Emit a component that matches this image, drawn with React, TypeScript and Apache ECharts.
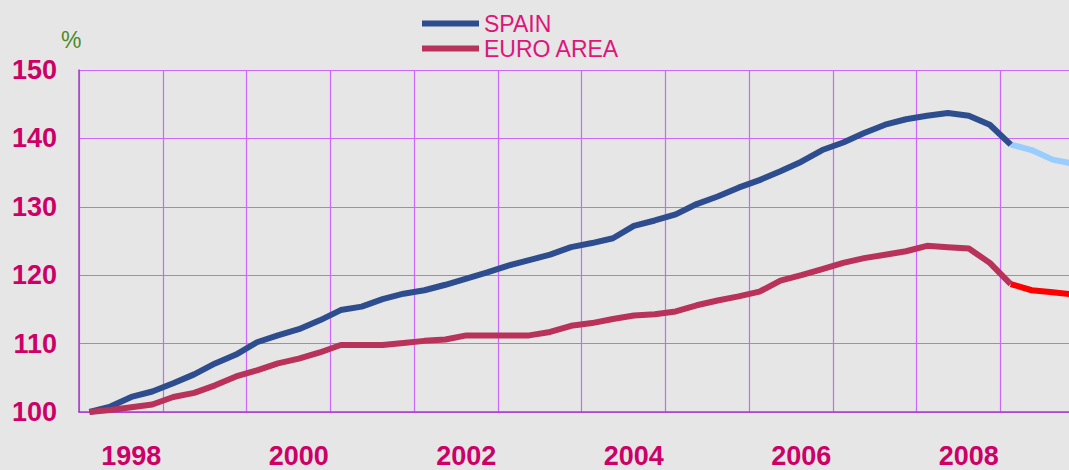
import React, { useEffect, useRef } from "react";
import * as echarts from "echarts";

const years = [1998, 1999, 2000, 2001, 2002, 2003, 2004, 2005, 2006, 2007, 2008, 2009];
const quarters = ["Q1", "Q2", "Q3", "Q4"];
const categories = years.flatMap((y) => quarters.map((q) => `${y} ${q}`));

// Index level, 1998 Q1 = 100 (quarterly, 1998 Q1 .. 2009 Q4)
const spain = [
  100.0, 100.8, 102.2, 103.0, 104.2, 105.5, 107.1, 108.4, 110.2, 111.2, 112.1, 113.4,
  114.9, 115.4, 116.5, 117.3, 117.8, 118.6, 119.5, 120.4, 121.4, 122.2, 123.0, 124.1,
  124.7, 125.4, 127.2, 128.0, 128.9, 130.4, 131.5, 132.8, 133.9, 135.2, 136.6, 138.3,
  139.4, 140.8, 142.0, 142.8, 143.3, 143.7, 143.3, 142.0, 139.1, 138.3, 136.9, 136.3,
];
const euroArea = [
  100.0, 100.3, 100.7, 101.1, 102.2, 102.8, 103.9, 105.2, 106.1, 107.1, 107.8, 108.7,
  109.8, 109.8, 109.8, 110.1, 110.4, 110.6, 111.2, 111.2, 111.2, 111.2, 111.7, 112.6,
  113.0, 113.6, 114.1, 114.3, 114.7, 115.6, 116.3, 116.9, 117.6, 119.2, 120.0, 120.9,
  121.8, 122.5, 123.0, 123.5, 124.3, 124.1, 123.9, 121.8, 118.7, 117.8, 117.5, 117.2,
];
// first forecast quarter index (2009 Q1)
const forecastStart = 44;

const seriesNames = ["SPAIN", "EURO AREA"];
const yTicks = { min: 100, max: 150, interval: 10 };

const FONT = "'Liberation Sans', Arial, Helvetica, sans-serif";

function split(values: number[]) {
  const actual = values.map((v, i) => (i <= forecastStart ? v : null));
  const forecast = values.map((v, i) => (i >= forecastStart ? v : null));
  return { actual, forecast };
}

export default function App() {
  const ref = useRef<HTMLDivElement>(null);

  useEffect(() => {
    if (!ref.current) return;
    const chart = echarts.init(ref.current, undefined, { renderer: "svg" });
    const sp = split(spain);
    const eu = split(euroArea);
    const lineBase = {
      type: "line" as const,
      symbol: "none",
      smooth: false,
      connectNulls: false,
    };
    chart.setOption({
      animation: false,
      backgroundColor: "#e6e6e6",
      textStyle: { fontFamily: FONT },
      grid: {
        left: 79,
        top: 70,
        bottom: 58,
        width: 1005,
        containLabel: false,
        outerBoundsMode: "none",
      },
      legend: {
        data: seriesNames,
        orient: "vertical",
        left: 417,
        top: 7,
        icon: "rect",
        itemWidth: 57,
        itemHeight: 6,
        itemGap: 2,
        itemTextGap: 11,
        textStyle: { fontSize: 23, color: "#e0147a", fontFamily: FONT, lineHeight: 23 },
      },
      graphic: [
        {
          type: "text",
          x: 61,
          y: 28,
          style: {
            text: "%",
            font: "23px 'Liberation Sans', Arial, sans-serif",
            fontSize: 23,
            fill: "#4f8a2a",
          },
        },
      ],
      xAxis: {
        type: "category",
        data: categories,
        boundaryGap: true,
        axisLine: { show: true, lineStyle: { color: "#a040c0", width: 1.5 } },
        axisTick: { show: false },
        axisLabel: {
          interval: (index: number) => index % 8 === 2,
          formatter: (v: string) => v.slice(0, 4),
          fontSize: 27,
          fontWeight: "bold",
          color: "#cc0066",
          margin: 30,
          fontFamily: FONT,
        },
        splitLine: {
          show: true,
          interval: (index: number) => index % 4 === 0,
          lineStyle: { color: "#cc66ff", width: 1.2 },
        },
      },
      yAxis: {
        type: "value",
        min: yTicks.min,
        max: yTicks.max,
        interval: yTicks.interval,
        axisLine: { show: true, lineStyle: { color: "#a040c0", width: 1.5 } },
        axisTick: { show: false },
        axisLabel: {
          fontSize: 27,
          fontWeight: "bold",
          color: "#cc0066",
          margin: 22,
          fontFamily: FONT,
        },
        splitLine: { show: true, lineStyle: { color: "#cc66ff", width: 1.2 } },
      },
      series: [
        {
          ...lineBase,
          name: seriesNames[0],
          data: sp.actual,
          z: 4,
          itemStyle: { color: "#2e4d8f" },
          lineStyle: { color: "#2e4d8f", width: 6 },
        },
        {
          ...lineBase,
          name: "SPAIN forecast",
          data: sp.forecast,
          z: 3,
          itemStyle: { color: "#99ccff" },
          lineStyle: { color: "#99ccff", width: 6 },
        },
        {
          ...lineBase,
          name: seriesNames[1],
          data: eu.actual,
          z: 4,
          itemStyle: { color: "#b8325a" },
          lineStyle: { color: "#b8325a", width: 6 },
        },
        {
          ...lineBase,
          name: "EURO AREA forecast",
          data: eu.forecast,
          z: 3,
          itemStyle: { color: "#ff0000" },
          lineStyle: { color: "#ff0000", width: 6 },
        },
      ],
    });
    return () => chart.dispose();
  }, []);

  return (
    <div
      ref={ref}
      style={{ position: "absolute", left: 0, top: 0, width: 1069, height: 470 }}
    />
  );
}
